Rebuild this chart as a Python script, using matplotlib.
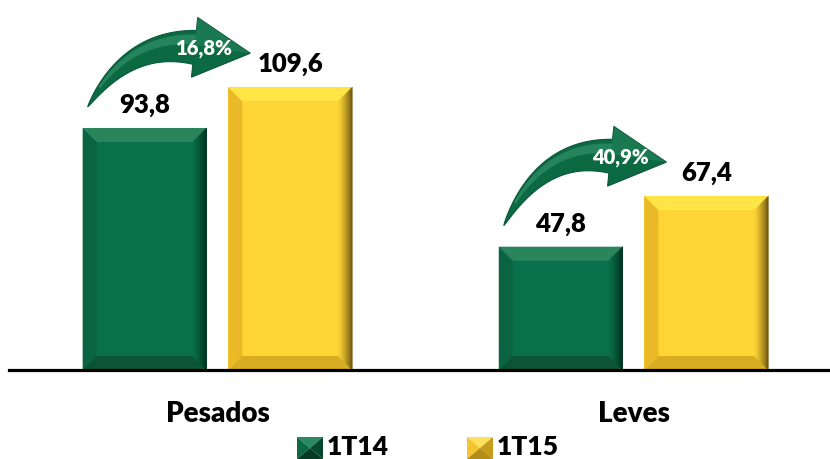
import numpy as np
import matplotlib
matplotlib.use('Agg')
import matplotlib.pyplot as plt
from matplotlib.patches import Polygon
from matplotlib.transforms import IdentityTransform
from matplotlib.colors import to_rgb

categories = ['Pesados', 'Leves']
series_names = ['1T14', '1T15']
v_1t14 = [93.8, 47.8]
v_1t15 = [109.6, 67.4]
growth_labels = ['16,8%', '40,9%']

plt.rcParams['font.family'] = ['Lato', 'DejaVu Sans']
WEIGHT = 'heavy'

W, H = 830, 459
fig = plt.figure(figsize=(W / 100, H / 100), dpi=100)
ax = fig.add_axes([9 / W, 89 / H, 821 / W, 370 / H])
ax.set_xlim(-0.501, 1.472)
ax.set_ylim(0, 143.4)
for s in ['top', 'left', 'right']:
    ax.spines[s].set_visible(False)
ax.spines['bottom'].set_linewidth(2.3)
ax.spines['bottom'].set_zorder(6)
ax.set_yticks([])
ax.set_xticks([])

GREEN = dict(face='#08704a', top='#2a855d', left='#0a6342', right='#032e1d', bottom='#0b5536')
YELLOW = dict(face='#fed535', top='#ffe545', left='#e9b927', right='#6a530f', bottom='#d9ad22')

x = np.arange(len(categories))
bw = 0.298
off = 0.175

b1 = ax.bar(x - off, v_1t14, bw, color=GREEN['face'], zorder=2, label=series_names[0])
b2 = ax.bar(x + off, v_1t15, bw, color=YELLOW['face'], zorder=2, label=series_names[1])

p0 = ax.transData.transform((0, 0))
p1 = ax.transData.transform((1, 1))
px_x = p1[0] - p0[0]
px_y = p1[1] - p0[1]
bev = 14
dx = bev / px_x
dy = bev / px_y


def mix(c1, c2, f):
    a = np.array(to_rgb(c1))
    b = np.array(to_rgb(c2))
    return tuple(a + (b - a) * f)


def bevel(bar, c):
    x0 = bar.get_x()
    x1 = x0 + bar.get_width()
    v = bar.get_height()
    polys = [
        ([(x0, v), (x0 + dx, v - dy), (x0 + dx, dy), (x0, 0)], c['left']),
        ([(x0, 0), (x1, 0), (x1 - dx, dy), (x0 + dx, dy)], c['bottom']),
        ([(x0, v), (x1, v), (x1 - dx, v - dy), (x0 + dx, v - dy)], c['top']),
    ]
    for pts, col in polys:
        ax.add_patch(Polygon(pts, closed=True, facecolor=col, edgecolor='none', zorder=3))
    n = 10
    for k in range(n):
        fa, fb = k / n, (k + 1) / n
        xa, xb = x1 - dx + fa * dx, x1 - dx + fb * dx
        pts = [(xa, v - dy + fa * dy), (xb, v - dy + fb * dy), (xb, dy - fb * dy), (xa, dy - fa * dy)]
        col = mix(c['face'], c['right'], ((k + 0.5) / n) ** 1.3)
        ax.add_patch(Polygon(pts, closed=True, facecolor=col, edgecolor=col, lw=0.3, zorder=3))


for bar in b1:
    bevel(bar, GREEN)
for bar in b2:
    bevel(bar, YELLOW)

for bars in (b1, b2):
    for bar in bars:
        v = bar.get_height()
        ax.annotate(f'{v:.1f}'.replace('.', ','), xy=(bar.get_x() + bar.get_width() / 2, v),
                    xytext=(0, 11), textcoords='offset points', ha='center', va='baseline',
                    fontsize=18.5, fontweight=WEIGHT, color='black', zorder=7)

for xi, cat in zip(x, categories):
    ax.annotate(cat, xy=(xi, 0), xytext=(0, -37.4), textcoords='offset points',
                ha='center', va='baseline', fontsize=20, fontweight=WEIGHT, color='black')


def to_img(xd, yd):
    d = ax.transData.transform((xd, yd))
    return np.array([d[0], H - d[1]])


def to_disp(pts):
    pts = np.asarray(pts)
    return np.column_stack([pts[:, 0], H - pts[:, 1]])


def curved_arrow(T, tip, label):
    ang = np.deg2rad(6)
    d = np.array([np.cos(ang), np.sin(ang)])
    B = tip - 56 * d
    C = B - 0.54 * np.linalg.norm(B - T) * d
    t = np.linspace(0, 1, 60)
    Q = ((1 - t) ** 2)[:, None] * T + (2 * (1 - t) * t)[:, None] * C + (t ** 2)[:, None] * B
    tan = (2 * (1 - t))[:, None] * (C - T) + (2 * t)[:, None] * (B - C)
    tan = tan / np.linalg.norm(tan, axis=1)[:, None]
    nrm = np.column_stack([tan[:, 1], -tan[:, 0]])  # points "up" in image coords
    h = 17 * t ** 0.8
    upper = Q + h[:, None] * nrm
    lower = Q - h[:, None] * nrm
    n_end = np.array([d[1], -d[0]])
    head = [B + 30 * n_end, tip, B - 30 * n_end]
    outline = np.vstack([upper, head, lower[::-1]])
    fig.add_artist(Polygon(to_disp(outline), closed=True, facecolor='#0c6a43',
                           edgecolor='#09563a', lw=0.8, transform=IdentityTransform(), zorder=8))
    hu = Q + (0.75 * h)[:, None] * nrm
    hl = Q + (0.15 * h)[:, None] * nrm
    m = t > 0.15
    streak = np.vstack([hu[m], (B + 22 * n_end)[None, :], (B + 4 * n_end)[None, :], hl[m][::-1]])
    fig.add_artist(Polygon(to_disp(streak), closed=True, facecolor='#3a9a70', alpha=0.55,
                           edgecolor='none', transform=IdentityTransform(), zorder=9))
    headhl = [B + 30 * n_end, tip, B + 2 * n_end]
    fig.add_artist(Polygon(to_disp(headhl), closed=True, facecolor='#2f8c63', alpha=0.45,
                           edgecolor='none', transform=IdentityTransform(), zorder=9))
    c = B + np.array([10, 1])
    fig.text(c[0], H - c[1], label, transform=IdentityTransform(), ha='center', va='center',
             fontsize=14.5, fontweight=WEIGHT, color='white', zorder=10)


for i in range(len(categories)):
    g = b1[i]
    yb = b2[i]
    T = to_img(g.get_x(), g.get_height()) + np.array([5, -21])
    tip = to_img(yb.get_x(), yb.get_height()) + np.array([22, -34])
    curved_arrow(T, tip, growth_labels[i])

legend_items = [(series_names[0], 297, dict(top='#2b8a5f', left='#0a6a44', right='#06482e', bottom='#053a25')),
                (series_names[1], 467, dict(top='#ffe25a', left='#f2c62c', right='#c69c1c', bottom='#b48c18'))]
for name, lx, c in legend_items:
    x0, x1, y0, y1 = lx, lx + 26, 437, 459
    cx, cy = (x0 + x1) / 2, (y0 + y1) / 2
    tris = [([(x0, y0), (x1, y0), (cx, cy)], c['top']),
            ([(x0, y0), (x0, y1), (cx, cy)], c['left']),
            ([(x1, y0), (x1, y1), (cx, cy)], c['right']),
            ([(x0, y1), (x1, y1), (cx, cy)], c['bottom'])]
    for pts, col in tris:
        fig.add_artist(Polygon(to_disp(pts), closed=True, facecolor=col, edgecolor='none',
                               transform=IdentityTransform()))
    fig.text(x1 + 4, H - 455, name, transform=IdentityTransform(), ha='left', va='baseline',
             fontsize=19, fontweight=WEIGHT, color='black')

fig.savefig('out.png', dpi=100)
